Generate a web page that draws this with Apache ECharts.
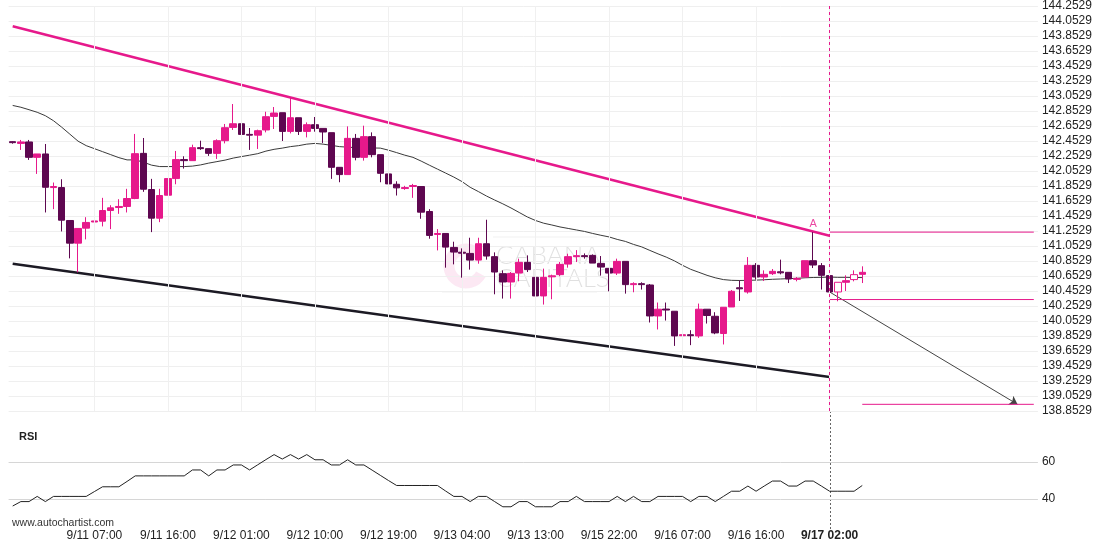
<!DOCTYPE html>
<html><head><meta charset="utf-8">
<script src="https://cdn.jsdelivr.net/npm/echarts@6/dist/echarts.min.js"></script>
<style>html,body{margin:0;padding:0;background:#fff}#c{width:1110px;height:550px}</style>
</head><body><div id="c"></div>
<script>
// ---- data (hourly candles) ----
const openP = [142.444,142.421,142.440,142.235,142.280,141.832,141.832,141.393,141.091,141.291,
141.373,141.384,141.526,141.566,141.580,141.686,142.288,141.806,141.424,141.730,
141.952,142.205,142.191,142.364,142.351,142.288,142.457,142.634,142.683,142.541,
142.531,142.600,142.781,142.830,142.581,142.763,142.581,142.670,142.621,142.564,
142.102,142.005,142.488,142.235,142.511,142.271,142.014,141.876,141.819,141.846,
141.846,141.513,141.207,141.220,141.034,140.970,140.954,140.865,141.083,140.911,
140.684,140.573,140.692,140.835,140.635,140.387,140.642,140.671,140.812,140.911,
140.924,140.928,140.821,140.755,140.692,140.848,140.538,140.551,140.533,140.120,
140.212,140.183,139.857,139.870,139.854,140.210,140.116,139.886,140.240,140.496,
140.440,140.795,140.639,140.684,140.709,140.702,140.608,140.639,140.857,140.791,
140.658,140.440,140.569,140.605,140.675];
const closeP = [142.431,142.440,142.235,142.280,141.836,141.846,141.397,141.091,141.287,141.367,
141.387,141.526,141.562,141.580,141.686,142.284,141.810,141.424,141.726,141.952,
142.205,142.191,142.364,142.351,142.288,142.457,142.630,142.683,142.541,142.531,
142.590,142.777,142.826,142.581,142.763,142.581,142.670,142.621,142.573,142.102,
142.005,142.488,142.235,142.511,142.271,142.022,141.881,141.828,141.832,141.859,
141.504,141.194,141.220,141.038,140.972,140.957,140.865,141.083,140.919,140.706,
140.573,140.688,140.835,140.738,140.387,140.635,140.655,140.808,140.911,140.924,
140.911,140.825,140.772,140.692,140.848,140.538,140.551,140.538,140.120,140.210,
140.199,139.854,139.870,139.857,140.210,140.126,139.894,140.236,140.449,140.482,
140.795,140.639,140.675,140.715,140.695,140.613,140.621,140.857,140.799,140.662,
140.440,140.569,140.591,140.671,140.702];
const highP = [142.450,142.467,142.467,142.280,142.413,141.899,141.943,141.393,141.287,141.437,
141.536,141.695,141.597,141.677,141.815,142.547,142.493,141.948,141.815,141.952,
142.320,142.249,142.404,142.457,142.351,142.475,142.680,142.946,142.683,142.626,
142.604,142.843,142.906,142.830,143.033,142.763,142.701,142.773,142.621,142.564,
142.102,142.648,142.547,142.657,142.568,142.271,142.018,141.916,141.855,141.881,
141.846,141.544,141.278,141.220,141.110,141.021,141.163,141.163,141.403,140.968,
140.728,140.706,140.884,140.928,140.751,140.751,140.671,140.839,140.950,140.998,
140.954,140.941,140.919,140.755,140.884,140.848,140.569,140.569,140.546,140.299,
140.299,140.183,139.930,139.930,140.285,140.210,140.170,140.236,140.466,140.595,
140.905,140.825,140.728,140.746,140.871,140.702,140.639,140.857,141.238,140.825,
140.671,140.569,140.662,140.728,140.782];
const lowP = [142.417,142.334,142.201,142.014,141.500,141.544,141.247,140.888,140.702,141.141,
141.163,141.314,141.278,141.482,141.500,141.677,141.775,141.238,141.371,141.730,
141.876,142.085,142.191,142.334,142.254,142.214,142.421,142.600,142.254,142.334,
142.347,142.568,142.613,142.453,142.554,142.533,142.501,142.577,142.427,141.948,
141.903,142.005,142.195,142.191,142.235,141.903,141.748,141.726,141.802,141.695,
141.416,141.150,140.994,140.764,140.808,140.631,140.738,140.817,140.871,140.409,
140.352,140.352,140.582,140.706,140.272,140.272,140.343,140.649,140.764,140.839,
140.884,140.825,140.658,140.449,140.666,140.418,140.436,140.472,140.033,139.940,
140.059,139.721,139.575,139.731,139.828,140.019,139.877,139.740,140.240,140.320,
140.418,140.605,140.586,140.666,140.675,140.559,140.582,140.639,140.759,140.472,
140.422,140.316,140.453,140.582,140.559];
const maLine = [142.927,142.903,142.870,142.836,142.790,142.723,142.637,142.544,142.451,142.391,
142.351,142.311,142.271,142.231,142.201,142.201,142.171,142.131,142.112,142.112,
142.112,142.112,142.118,142.134,142.158,142.178,142.198,142.225,142.245,142.264,
142.284,142.318,142.342,142.358,142.378,142.391,142.411,142.421,142.411,142.395,
142.378,142.371,142.364,142.364,142.360,142.358,142.331,142.298,142.264,142.235,
142.185,142.131,142.078,142.025,141.972,141.912,141.836,141.779,141.719,141.666,
141.615,141.560,141.500,141.440,141.393,141.357,141.333,141.307,141.287,141.267,
141.247,141.220,141.196,141.174,141.141,141.114,141.074,141.041,140.994,140.948,
140.905,140.855,140.795,140.742,140.702,140.662,140.629,140.605,140.595,140.593,
140.595,140.598,140.603,140.609,140.613,140.618,140.622,140.629,140.633,140.635,
140.639,140.635,140.635,140.633,140.632];
const rsiLine = [36.2,38.6,38.6,41.4,38.6,41.4,41.4,41.4,41.4,41.4,
44.0,46.6,46.6,46.6,49.5,52.5,52.5,52.5,52.5,52.5,
52.5,52.5,55.7,55.7,52.5,55.7,55.7,58.4,58.4,55.7,
58.5,61.3,64,61.6,64,61.6,64,61.2,61.2,58.4,
58.4,61.2,58.4,58.4,55.6,52.8,50,47.3,47.3,47.3,
47.3,47.3,47.3,44.3,41.4,41.4,38.6,41.4,41.4,38.6,
35.8,35.8,38.6,38.6,35.8,35.8,35.8,38.6,38.6,41.4,
38.6,38.6,38.6,38.6,41.4,38.6,41.4,38.6,38.6,41.4,
41.4,41.4,41.4,38.6,41.4,41.4,38.6,41.4,44.2,44.2,
47,44.2,47,49.7,49.7,47,47,49.7,49.7,47,
44.2,44.2,44.2,44.2,47.3];
const upperTrend = [[0,143.982],[100,141.190]];
const lowerTrend = [[0,140.815],[100,139.305]];
const levelA = 141.238;      // pattern point A
const levelBreak = 140.339;
const targetLevel = 138.942;
const forecast = [[100,140.440],[123,138.942]];
const hollowIdx = [101,103];
const eventIdx = 100;        // 9/17 02:00
const priceAxisMin = 138.8529, priceAxisMax = 144.2529, priceStep = 0.2;
const rsiLabels = [40,60];
// time categories (hourly, with weekend gap)
const sessions = [[10,21,13,21],[15,22,16,20],[16,22,17,6]]; // [dayFrom,hourFrom,dayTo,hourTo] in September
const futureSlots = 21;

function buildTimes(){
  const out=[];
  sessions.forEach(s=>{
    let t=Date.UTC(2019,8,s[0],s[1]); const end=Date.UTC(2019,8,s[2],s[3]);
    while(t<=end){const d=new Date(t);out.push((d.getUTCMonth()+1)+'/'+d.getUTCDate()+' '+String(d.getUTCHours()).padStart(2,'0')+':00');t+=3600000;}
  });
  for(let i=0;i<futureSlots;i++) out.push('f'+i);
  return out;
}
const categories = buildTimes();

const PINK='#e6198b', DARK='#5e0750', FONT='Liberation Sans, Arial, sans-serif';
const OFF = priceAxisMin - Math.floor(priceAxisMin/priceStep+1e-9)*priceStep; // 0.0529
const sh = v => +(v-OFF).toFixed(5);
const N = categories.length;
const step = 8.169, gridLeft = 8.6, gridW = N*step;
const showLbl = i => i>=10 && i<=eventIdx && (i-10)%9===0;

const candleData = openP.map((o,i)=>{
  const v=[sh(o),sh(closeP[i]),sh(lowP[i]),sh(highP[i])];
  if(hollowIdx.includes(i)) return {value:v,itemStyle:{color:'#ffffff',borderColor:PINK}};
  return v;
});
const vLines=[]; for(let i=0;i<N;i++) if(showLbl(i)) vLines.push({xAxis:i});

const chart = echarts.init(document.getElementById('c'));
chart.setOption({
  animation:false, backgroundColor:'#fff',
  textStyle:{fontFamily:FONT},
  grid:[
    {left:gridLeft, width:gridW, top:5, height:(priceAxisMax-priceAxisMin)/priceStep*15.037},
    {left:gridLeft, width:gridW, top:443.5, height:74}
  ],
  xAxis:[
    {type:'category', gridIndex:0, data:categories, boundaryGap:true,
     axisLine:{show:false}, axisTick:{show:false}, axisLabel:{show:false}, splitLine:{show:false}},
    {type:'category', gridIndex:1, data:categories, boundaryGap:true,
     axisLine:{show:false}, axisTick:{show:false}, splitLine:{show:false},
     axisLabel:{show:true, interval:(i)=>showLbl(i), margin:12.5, fontSize:12, color:'#222', fontFamily:FONT,
       formatter:(v,i)=> i===eventIdx ? '{b|'+v+'}' : v,
       rich:{b:{fontWeight:'bold',fontSize:12,color:'#222',fontFamily:FONT}}}}
  ],
  yAxis:[
    {type:'value', gridIndex:0, position:'right', min:sh(priceAxisMin), max:sh(priceAxisMax), interval:priceStep,
     axisLine:{show:false}, axisTick:{show:false},
     axisLabel:{margin:4, fontSize:12, color:'#222', fontFamily:FONT, formatter:v=>(v+OFF).toFixed(4)},
     splitLine:{lineStyle:{color:'#efefef',width:1}}},
    {type:'value', gridIndex:1, position:'right', min:30, max:70, interval:10,
     axisLine:{show:false}, axisTick:{show:false},
     axisLabel:{margin:4, fontSize:12, color:'#222', fontFamily:FONT, formatter:v=>rsiLabels.includes(v)?String(v):''},
     splitLine:{lineStyle:{color:['rgba(0,0,0,0)','#d6d6d6','rgba(0,0,0,0)','#d6d6d6','rgba(0,0,0,0)'],width:1}}}
  ],
  series:[
    {type:'line', xAxisIndex:0, yAxisIndex:0, data:[], silent:true,
     markLine:{symbol:'none', silent:true, label:{show:false}, lineStyle:{color:'#f0f0f0',width:1,type:'solid'}, data:vLines}},
    {type:'line', name:'upper', data:upperTrend.map(p=>[p[0],sh(p[1])]), symbol:'none', lineStyle:{color:PINK,width:2.5}, z:3},
    {type:'line', name:'lower', data:lowerTrend.map(p=>[p[0],sh(p[1])]), symbol:'none', lineStyle:{color:'#1c1a24',width:2.5}, z:3},
    {type:'line', name:'ma', data:maLine.map(sh), symbol:'none', lineStyle:{color:'#3a3a3a',width:1}, z:3},
    {type:'candlestick', name:'price', data:candleData, barWidth:7,
     itemStyle:{color:PINK, color0:DARK, borderColor:PINK, borderColor0:DARK, borderWidth:1}, z:4,
     markLine:{symbol:'none', silent:true, label:{show:false}, lineStyle:{color:PINK,width:1,type:[3,3]}, data:[{xAxis:eventIdx}]}},
    {type:'line', name:'levelA', data:[[eventIdx,sh(levelA)],[N-1,sh(levelA)]], symbol:'none', lineStyle:{color:PINK,width:1}, z:3},
    {type:'line', name:'levelB', data:[[eventIdx,sh(levelBreak)],[N-1,sh(levelBreak)]], symbol:'none', lineStyle:{color:PINK,width:1}, z:3},
    {type:'line', name:'target', data:[[openP.length-1,sh(targetLevel)],[N-1,sh(targetLevel)]], symbol:'none', lineStyle:{color:PINK,width:1}, z:3},
    {type:'lines', coordinateSystem:'cartesian2d', xAxisIndex:0, yAxisIndex:0, z:3,
     symbol:['none','arrow'], symbolSize:8,
     lineStyle:{color:'#444',width:1,opacity:1},
     data:[{coords:forecast.map(p=>[p[0],sh(p[1])])}]},
    {type:'scatter', data:[[98, sh(highP[98])]], symbolSize:1, itemStyle:{color:'rgba(0,0,0,0)'},
     label:{show:true, position:'top', distance:2, formatter:'A', color:PINK, fontSize:11, fontFamily:FONT}, z:5},
    {type:'line', name:'rsi', xAxisIndex:1, yAxisIndex:1, data:rsiLine, symbol:'none', lineStyle:{color:'#222',width:1}}
  ],
  graphic:[
    {type:'group', id:'wm', z:-10, silent:true, children:[
      {type:'arc', shape:{cx:466, cy:266, r:17, startAngle:0.5, endAngle:5.6}, style:{stroke:'rgba(230,25,139,0.1)', lineWidth:11, fill:null}},
      {type:'line', shape:{x1:493,y1:237,x2:597,y2:237}, style:{stroke:'rgba(0,0,0,0.06)',lineWidth:1}},
      {type:'line', shape:{x1:442,y1:292,x2:597,y2:292}, style:{stroke:'rgba(0,0,0,0.06)',lineWidth:1}},
      {type:'text', x:496, y:243, style:{text:'CABANA', font:'300 26px Lato', fill:'rgba(0,0,0,0.12)'}},
      {type:'text', x:496, y:266, style:{text:'CAPITALS', font:'300 26px Lato', fill:'rgba(0,0,0,0.12)'}}
    ]},
    {type:'text', id:'rsiTitle', left:19, top:431, style:{text:'RSI', font:'bold 11px '+FONT, fill:'#222'}},
    {type:'text', id:'brand', left:12, top:518, style:{text:'www.autochartist.com', font:'10.5px '+FONT, fill:'#333'}}
  ]
});
// event marker across the gap between panes and the RSI pane
const ex = chart.convertToPixel({xAxisIndex:0}, eventIdx);
const yTopGap = chart.convertToPixel({yAxisIndex:0}, sh(priceAxisMin));
const yRsiBottom = chart.convertToPixel({yAxisIndex:1}, 30);
chart.setOption({graphic:[{type:'line', id:'eventLine', silent:true, shape:{x1:Math.round(ex)+0.5,y1:yTopGap,x2:Math.round(ex)+0.5,y2:yRsiBottom+12}, style:{stroke:'#666',lineWidth:1,lineDash:[2,2]}}]});
</script></body></html>
